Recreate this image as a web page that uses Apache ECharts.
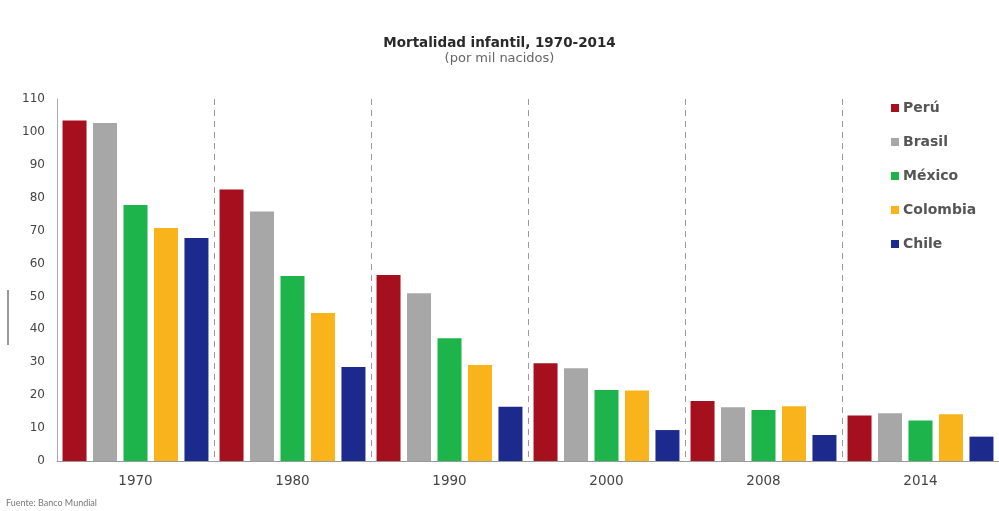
<!DOCTYPE html>
<html>
<head>
<meta charset="utf-8">
<script src="https://cdn.jsdelivr.net/npm/echarts@6/dist/echarts.min.js"></script>
<style>
  html, body { margin: 0; padding: 0; background: #ffffff; }
  #chart { width: 999px; height: 511px; }
</style>
</head>
<body>
<div id="chart"></div>
<script>
// Infant mortality per 1,000 births, World Bank figures
const years = ['1970', '1980', '1990', '2000', '2008', '2014'];
const peru     = [103.5, 82.5, 56.5, 29.7, 18.2, 13.8];
const brasil   = [102.7, 75.8, 51.0, 28.2, 16.3, 14.5];
const mexico   = [77.8, 56.2, 37.3, 21.6, 15.5, 12.3];
const colombia = [70.8, 45.0, 29.2, 21.4, 16.6, 14.2];
const chile    = [67.8, 28.6, 16.5, 9.4, 7.9, 7.4];
const yTicks = [0, 10, 20, 30, 40, 50, 60, 70, 80, 90, 100, 110];

const wideFont = '"DejaVu Sans", Verdana, sans-serif';
const textFont = '"DejaVu Sans", "Noto Sans", sans-serif';

const seriesDefs = [
  { name: 'Perú', data: peru, color: '#A50F1E' },
  { name: 'Brasil', data: brasil, color: '#A7A7A7' },
  { name: 'México', data: mexico, color: '#1DB44B' },
  { name: 'Colombia', data: colombia, color: '#F9B31B' },
  { name: 'Chile', data: chile, color: '#1B2A8C' }
];

const chart = echarts.init(document.getElementById('chart'), null, { renderer: 'canvas' });

chart.setOption({
  backgroundColor: '#ffffff',
  animation: false,
  textStyle: { fontFamily: textFont },
  title: {
    text: 'Mortalidad infantil, 1970-2014',
    subtext: '(por mil nacidos)',
    left: 'center',
    top: 31,
    itemGap: 2,
    textStyle: { fontSize: 13.5, fontWeight: 'bold', color: '#2a2a2a', fontFamily: wideFont },
    subtextStyle: { fontSize: 13, color: '#666666', fontFamily: wideFont }
  },
  legend: {
    orient: 'vertical',
    left: 886,
    top: 96,
    itemWidth: 8,
    itemHeight: 8,
    itemGap: 20,
    icon: 'rect',
    textStyle: { fontSize: 14, fontWeight: 'bold', color: '#555555', fontFamily: wideFont, padding: [0, 0, 0, -1] },
    data: seriesDefs.map(s => s.name)
  },
  grid: { left: 57, right: -8, top: 99, bottom: 50, containLabel: false },
  xAxis: {
    type: 'category',
    data: years,
    axisLine: { show: true, lineStyle: { color: '#9a9a9a', width: 1 } },
    axisTick: { show: false },
    axisLabel: { margin: 13, fontSize: 13.5, color: '#444444', fontFamily: textFont },
    splitLine: { show: true, interval: 0, lineStyle: { color: '#9a9a9a', type: [6, 5], width: 1 } }
  },
  yAxis: {
    type: 'value',
    min: yTicks[0],
    max: yTicks[yTicks.length - 1],
    interval: 10,
    axisLine: { show: true, lineStyle: { color: '#aaaaaa', width: 1 } },
    axisTick: { show: false },
    splitLine: { show: false },
    axisLabel: { margin: 12, fontSize: 12, color: '#444444', fontFamily: textFont }
  },
  graphic: [
    {
      type: 'text',
      left: 6,
      top: 499,
      style: { text: 'Fuente: Banco Mundial', fontSize: 9, fill: '#777777', fontFamily: 'Lato, sans-serif' }
    },
    {
      type: 'line',
      shape: { x1: 8, y1: 290, x2: 8, y2: 345 },
      style: { stroke: '#777777', lineWidth: 1.5 }
    }
  ],
  series: seriesDefs.map(s => ({
    name: s.name,
    type: 'bar',
    data: s.data,
    barWidth: 24,
    barGap: '27%',
    itemStyle: { color: s.color },
    emphasis: { disabled: true }
  }))
});
</script>
</body>
</html>
